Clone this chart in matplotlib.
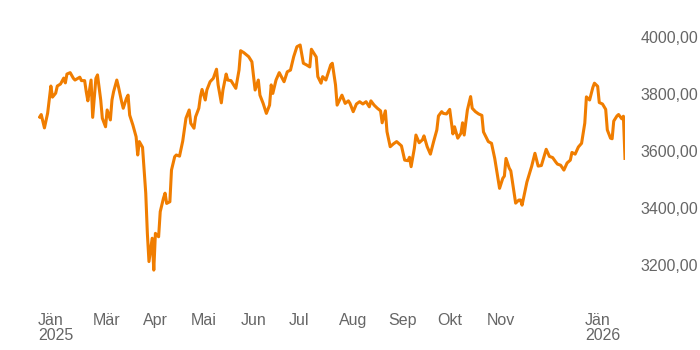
import numpy as np
import pandas as pd
import matplotlib
matplotlib.use("Agg")
import matplotlib.pyplot as plt

# index level, days counted from 26 Jan 2025
start = pd.Timestamp("2025-01-26")
days = [1, 2, 4, 6, 8, 9, 11, 12, 14, 16, 17, 18, 20, 22, 23, 26, 27, 29, 30, 31,
        33, 34, 36, 37, 39, 40, 42, 43, 45, 46, 47, 49, 50, 52, 53, 55, 56, 57, 59, 61,
        62, 63, 65, 67, 68, 69, 71, 72, 73, 75, 76, 78, 79, 80, 82, 83, 85, 86, 88, 90,
        92, 94, 95, 97, 98, 100, 101, 102, 104, 105, 107, 109, 111, 112, 114, 115, 117, 118, 120, 123,
        125, 126, 128, 131, 133, 135, 137, 138, 140, 142, 144, 145, 146, 148, 150, 153, 155, 157, 159, 161,
        163, 165, 167, 169, 170, 173, 174, 176, 177, 179, 182, 183, 185, 186, 189, 191, 193, 194, 196, 198,
        200, 202, 204, 206, 207, 209, 211, 213, 214, 216, 217, 219, 221, 223, 226, 228, 230, 231, 232, 234,
        235, 237, 239, 240, 242, 244, 246, 248, 249, 251, 252, 254, 256, 258, 259, 261, 263, 264, 265, 267,
        269, 270, 272, 274, 276, 277, 280, 282, 284, 287, 289, 290, 291, 293, 294, 297, 299, 300, 301, 304,
        307, 309, 311, 313, 316, 318, 320, 322, 323, 325, 327, 329, 331, 332, 334, 336, 338, 340, 341, 343,
        345, 346, 348, 349, 351, 353, 354, 356, 357, 358, 360, 361, 363, 364, 365]
level = [3719, 3728, 3681, 3733, 3828, 3789, 3803, 3828, 3835, 3856, 3839, 3870, 3875, 3855, 3849, 3859, 3847, 3847, 3808, 3776,
         3849, 3718, 3855, 3867, 3779, 3715, 3685, 3744, 3709, 3779, 3808, 3849, 3826, 3773, 3750, 3785, 3796, 3726, 3691, 3650,
         3586, 3633, 3613, 3452, 3311, 3212, 3294, 3182, 3311, 3299, 3387, 3434, 3452, 3416, 3422, 3533, 3580, 3586, 3582, 3635,
         3715, 3744, 3697, 3680, 3720, 3750, 3791, 3816, 3779, 3814, 3843, 3855, 3887, 3832, 3769, 3814, 3870, 3849, 3847, 3820,
         3884, 3952, 3945, 3931, 3913, 3814, 3849, 3796, 3767, 3732, 3761, 3832, 3802, 3849, 3875, 3843, 3878, 3884, 3931, 3966,
         3972, 3908, 3902, 3895, 3957, 3930, 3861, 3838, 3861, 3849, 3902, 3908, 3832, 3761, 3796, 3767, 3776, 3767, 3738, 3765,
         3773, 3765, 3773, 3755, 3776, 3761, 3750, 3741, 3699, 3741, 3668, 3615, 3625, 3633, 3618, 3568, 3566, 3578, 3545, 3609,
         3656, 3629, 3639, 3653, 3615, 3589, 3633, 3674, 3723, 3738, 3732, 3730, 3746, 3660, 3685, 3645, 3662, 3699, 3656, 3744,
         3791, 3750, 3738, 3730, 3725, 3667, 3633, 3627, 3574, 3469, 3504, 3512, 3574, 3540, 3530, 3417, 3428, 3428, 3410, 3491,
         3547, 3592, 3547, 3549, 3606, 3581, 3577, 3561, 3554, 3550, 3533, 3558, 3568, 3595, 3589, 3614, 3627, 3698, 3790, 3779,
         3823, 3838, 3827, 3770, 3765, 3746, 3674, 3645, 3643, 3705, 3723, 3728, 3713, 3722, 3574]

month_dates = ["2025-01-26", "2025-03-01", "2025-04-01", "2025-05-01", "2025-06-01", "2025-07-01",
               "2025-08-01", "2025-09-01", "2025-10-01", "2025-11-01", "2026-01-01"]
month_labels = ["Jän\n2025", "Mär", "Apr", "Mai", "Jun", "Jul", "Aug", "Sep", "Okt", "Nov", "Jän\n2026"]
y_ticks = [3200, 3400, 3600, 3800, 4000]

dates = start + pd.to_timedelta(days, unit="D")

plt.rcParams["font.family"] = ["Liberation Sans", "DejaVu Sans"]
fig = plt.figure(figsize=(7, 3.5), dpi=100)
ax = fig.add_axes([38 / 700, 45 / 350, 587 / 700, 285 / 350])

ax.plot(dates, level, color="#F07D00", linewidth=2.2, solid_joinstyle="round")

ax.set_xlim(start, start + pd.Timedelta(days=365))
ax.set_ylim(3059.6, 4059.7)

ax.set_xticks(pd.to_datetime(month_dates))
ax.set_xticklabels(month_labels, ha="left", linespacing=0.95)
ax.set_yticks(y_ticks)
ax.set_yticklabels([f"{v:.2f}".replace(".", ",") for v in y_ticks])
ax.yaxis.tick_right()
ax.tick_params(axis="both", length=0, colors="#666666", labelsize=11.5)
ax.tick_params(axis="x", pad=6)
ax.tick_params(axis="y", pad=11)

for s in ax.spines.values():
    s.set_visible(False)

fig.savefig("out.png", dpi=100)
